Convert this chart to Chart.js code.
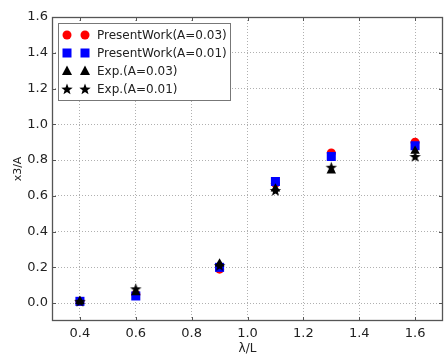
<!DOCTYPE html>
<html>
<head>
<meta charset="utf-8">
<script src="https://cdn.jsdelivr.net/npm/chart.js@4/dist/chart.umd.min.js"></script>
<style>
  html, body { margin: 0; padding: 0; background: #fff; overflow: hidden; }
  canvas { display: block; }
</style>
</head>
<body>
<canvas id="myChart" width="444" height="356"></canvas>
<script>
let lambdaL = [0.4, 0.6, 0.9, 1.1, 1.3, 1.6];
let present03 = [0.01, 0.05, 0.19, 0.67, 0.84, 0.90];
let present01 = [0.01, 0.04, 0.20, 0.68, 0.82, 0.88];
let exp03 = [0.01, 0.06, 0.22, 0.64, 0.74, 0.85];
let exp01 = [0.01, 0.08, 0.21, 0.63, 0.76, 0.82];
let labels = ['PresentWork(A=0.03)', 'PresentWork(A=0.01)', 'Exp.(A=0.03)', 'Exp.(A=0.01)'];
let xTicks = [0.4, 0.6, 0.8, 1.0, 1.2, 1.4, 1.6];
let yTicks = [0.0, 0.2, 0.4, 0.6, 0.8, 1.0, 1.2, 1.4, 1.6];

function starPath(ctx, x, y, ro, ri) {
    ctx.beginPath();
    for (let i = 0; i < 10; i++) {
        let r = i % 2 ? ri : ro;
        let a = -Math.PI / 2 + i * Math.PI / 5;
        let px = x + r * Math.cos(a), py = y + r * Math.sin(a);
        if (i) ctx.lineTo(px, py); else ctx.moveTo(px, py);
    }
    ctx.closePath();
}

// filled star marker
let starImg = document.createElement('canvas');
starImg.width = 13;
starImg.height = 13;
let sctx = starImg.getContext('2d');
sctx.fillStyle = '#000';
starPath(sctx, 6.5, 7, 6, 2.5);
sctx.fill();

function pts(ys) {
    return lambdaL.map((x, i) => ({x: x, y: ys[i]}));
}

function drawMarker(ctx, kind, color, x, y) {
    ctx.fillStyle = color;
    if (kind === 'circle') {
        ctx.beginPath();
        ctx.arc(x, y, 4.5, 0, Math.PI * 2);
        ctx.fill();
    } else if (kind === 'rect') {
        ctx.fillRect(x - 4.5, y - 4.5, 9, 9);
    } else if (kind === 'triangle') {
        ctx.beginPath();
        ctx.moveTo(x, y - 5.5);
        ctx.lineTo(x + 5, y + 4);
        ctx.lineTo(x - 5, y + 4);
        ctx.closePath();
        ctx.fill();
    } else {
        starPath(ctx, x, y + 0.5, 6, 2.5);
        ctx.fill();
    }
}

let frameAndLegend = {
    id: 'frameAndLegend',
    afterDraw(chart) {
        let ctx = chart.ctx;
        let a = chart.chartArea;
        let xs = chart.scales.x, ys = chart.scales.y;
        ctx.save();
        ctx.strokeStyle = '#555';
        ctx.lineWidth = 1.3;
        ctx.strokeRect(a.left + 0.5, a.top + 0.5, a.right - a.left - 1, a.bottom - a.top - 1);
        // inward ticks
        ctx.lineWidth = 1;
        ctx.beginPath();
        xTicks.forEach(v => {
            let px = Math.round(xs.getPixelForValue(v)) + 0.5;
            ctx.moveTo(px, a.bottom); ctx.lineTo(px, a.bottom - 4);
            ctx.moveTo(px, a.top); ctx.lineTo(px, a.top + 4);
        });
        yTicks.forEach(v => {
            let py = Math.round(ys.getPixelForValue(v)) + 0.5;
            ctx.moveTo(a.left, py); ctx.lineTo(a.left + 4, py);
            ctx.moveTo(a.right, py); ctx.lineTo(a.right - 4, py);
        });
        ctx.stroke();

        // legend box
        let bx = 58, by = 23, bw = 172, bh = 77;
        ctx.fillStyle = '#fff';
        ctx.fillRect(bx, by, bw, bh);
        ctx.strokeStyle = '#777';
        ctx.strokeRect(bx + 0.5, by + 0.5, bw, bh);
        let kinds = ['circle', 'rect', 'triangle', 'star'];
        let colors = ['#ff0000', '#0000ff', '#000000', '#000000'];
        ctx.font = '12px "DejaVu Sans"';
        ctx.textBaseline = 'middle';
        labels.forEach((t, i) => {
            let ry = 35 + i * 18;
            drawMarker(ctx, kinds[i], colors[i], 67, ry);
            drawMarker(ctx, kinds[i], colors[i], 85, ry);
            ctx.fillStyle = '#222';
            ctx.fillText(t, 97, ry + 1);
        });
        ctx.restore();
    }
};

let myChart = document.getElementById('myChart').getContext('2d');

let chart = new Chart(myChart, {
    type: 'scatter',
    data: {
        datasets: [
            {
                label: labels[0],
                data: pts(present03),
                pointStyle: 'circle',
                pointRadius: 4.5,
                backgroundColor: '#ff0000',
                borderWidth: 0,
                order: 4
            },
            {
                label: labels[1],
                data: pts(present01),
                pointStyle: 'rect',
                pointRadius: 6.4,
                backgroundColor: '#0000ff',
                borderWidth: 0,
                order: 3
            },
            {
                label: labels[2],
                data: pts(exp03),
                pointStyle: 'triangle',
                pointRadius: 5.5,
                backgroundColor: '#000000',
                borderWidth: 0,
                order: 2
            },
            {
                label: labels[3],
                data: pts(exp01),
                pointStyle: starImg,
                pointRadius: 6,
                backgroundColor: '#000000',
                borderWidth: 0,
                order: 1
            }
        ]
    },
    options: {
        responsive: false,
        animation: false,
        layout: {
            autoPadding: false,
            padding: {top: 17, right: 1, left: 0, bottom: 0}
        },
        plugins: {
            legend: {display: false},
            tooltip: {enabled: false}
        },
        scales: {
            x: {
                type: 'linear',
                min: 0.3,
                max: 1.7,
                afterBuildTicks: s => { s.ticks = xTicks.map(v => ({value: v})); },
                afterFit: s => { s.height = 35; s.paddingLeft = 0; s.paddingRight = 0; },
                grid: {
                    color: '#b0b0b0',
                    drawTicks: false
                },
                border: {display: false, dash: [1, 2]},
                ticks: {
                    padding: 5,
                    color: '#222',
                    font: {family: 'DejaVu Sans', size: 13},
                    callback: v => v.toFixed(1)
                },
                title: {
                    display: true,
                    text: 'λ/L',
                    color: '#222',
                    font: {family: 'DejaVu Sans', size: 12},
                    padding: {top: 0, bottom: 0}
                }
            },
            y: {
                type: 'linear',
                min: -0.1,
                max: 1.6,
                afterBuildTicks: s => { s.ticks = yTicks.map(v => ({value: v})); },
                afterFit: s => { s.width = 52; s.paddingTop = 0; s.paddingBottom = 0; },
                grid: {
                    color: '#b0b0b0',
                    drawTicks: false
                },
                border: {display: false, dash: [1, 2]},
                ticks: {
                    padding: 4,
                    color: '#222',
                    font: {family: 'DejaVu Sans', size: 13},
                    callback: v => v.toFixed(1)
                },
                title: {
                    display: true,
                    text: 'x3/A',
                    color: '#222',
                    font: {family: 'DejaVu Sans', size: 11},
                    padding: {top: 12, bottom: 0}
                }
            }
        }
    },
    plugins: [frameAndLegend]
});
</script>
</body>
</html>
